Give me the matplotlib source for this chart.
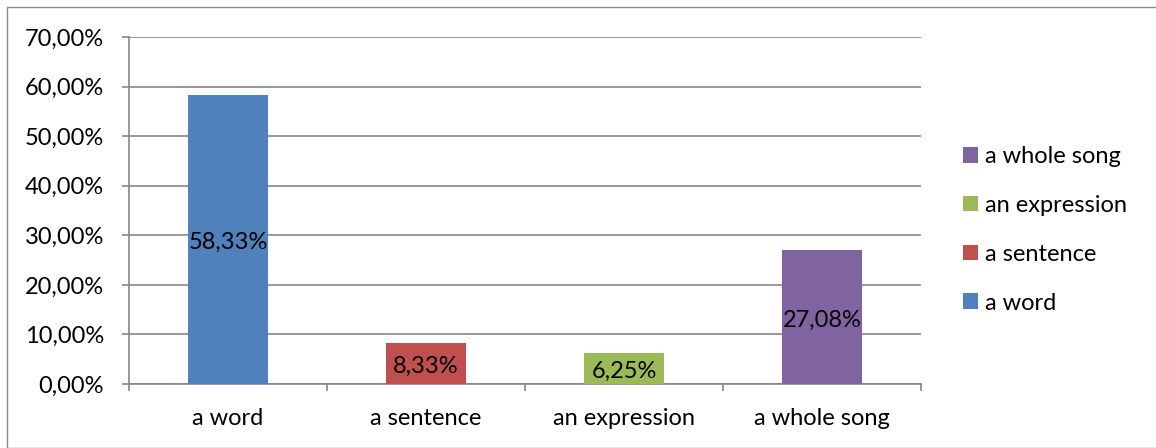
import matplotlib
matplotlib.use("Agg")
import matplotlib.pyplot as plt
from matplotlib.patches import Rectangle, Patch
from matplotlib.ticker import FuncFormatter, MultipleLocator

plt.rcParams['font.family'] = ['Lato', 'DejaVu Sans']

categories = ["a word", "a sentence", "an expression", "a whole song"]
values = [58.33, 8.33, 6.25, 27.08]
colors = ["#4F81BD", "#C0504D", "#9BBB59", "#8064A2"]

W, H, DPI = 1156, 448, 100
FS = 17
fig = plt.figure(figsize=(W / DPI, H / DPI), dpi=DPI)
fig.patch.set_facecolor("white")

# chart frame (only left/top edges fall inside the canvas)
fig.patches.append(Rectangle((7 / W, 0), 2.0, 1 - 7.5 / H, transform=fig.transFigure,
                             fill=False, edgecolor="#8C8C8C", linewidth=1.0))

ax = fig.add_axes([129 / W, 1 - 384 / H, (921 - 129) / W, (384 - 37) / H])

x = list(range(len(categories)))
bars = ax.bar(x, values, width=0.404, color=colors, zorder=3)

fmt = lambda v: f"{v:.2f}".replace(".", ",") + "%"
for b, v in zip(bars, values):
    ax.annotate(fmt(v), (b.get_x() + b.get_width() / 2, v / 2), xytext=(0, -3),
                textcoords="offset pixels", ha="center", va="center",
                fontsize=FS, color="black", zorder=4)

ax.set_xlim(-0.5, len(categories) - 0.5)
ax.set_ylim(0, 70)
ax.yaxis.set_major_locator(MultipleLocator(10))
ax.yaxis.set_major_formatter(FuncFormatter(lambda v, p: fmt(v)))
ax.grid(axis="y", color="#868686", linewidth=1.2, zorder=0)

ax.set_xticks(x)
ax.set_xticklabels(categories)
ax.set_xticks([i - 0.5 for i in range(len(categories) + 1)], minor=True)
ax.tick_params(axis="x", which="major", length=0, pad=17, labelsize=FS)
ax.tick_params(axis="x", which="minor", length=5, width=1.2, color="#868686")
ax.tick_params(axis="y", length=5, width=1.2, color="#868686", pad=13, labelsize=FS)

for s in ["top", "right"]:
    ax.spines[s].set_visible(False)
for s in ["left", "bottom"]:
    ax.spines[s].set_color("#868686")
    ax.spines[s].set_linewidth(1.2)

handles = [Patch(facecolor=c, edgecolor="none") for c in colors][::-1]
ax.legend(handles, categories[::-1], loc="upper left",
          bbox_to_anchor=(963 / W, 1 - 146 / H), bbox_transform=fig.transFigure,
          frameon=False, fontsize=FS, handlelength=0.64, handleheight=0.64,
          handletextpad=0.3, labelspacing=1.18, borderaxespad=0, borderpad=0)

fig.savefig("out.png", dpi=DPI)
